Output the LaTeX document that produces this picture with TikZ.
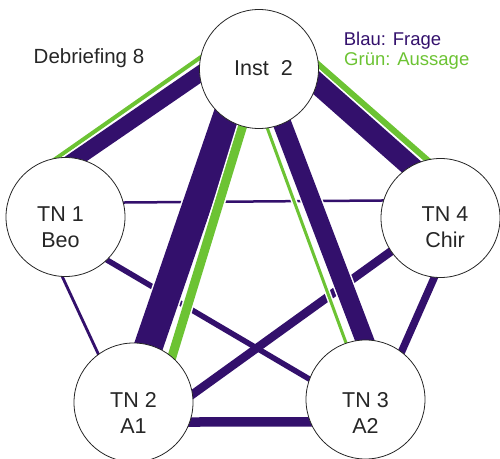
\documentclass[tikz,border=0pt]{standalone}
\usepackage{fontspec}
\setmainfont{Liberation Sans}
\usetikzlibrary{calc}
\definecolor{frage}{HTML}{33106C}
\definecolor{aussage}{HTML}{6CC333}
\definecolor{ink}{HTML}{262626}
\pgfdeclarelayer{edges}
\pgfsetlayers{edges,main}
% straight link between two border points, pushed a little into both circles
\newcommand\linkpath[2]{($(#1)!-15bp!(#2)$) -- ($(#2)!-15bp!(#1)$)}
\begin{document}
\begin{tikzpicture}[x=1bp,y=-1bp,
  person/.style={circle, draw=ink, line width=0.8bp, fill=white,
    minimum size=119bp, inner sep=0pt},
  nodetext/.style={text=ink, font=\fontsize{21.5bp}{26bp}\selectfont,
    align=center, inner sep=0pt},
  casing/.style={draw=white, line width=#1bp+3bp},
  frageline/.style={draw=frage, line width=#1bp},
  flink/.style={preaction={draw=white, line width=#1bp+3bp}, draw=frage, line width=#1bp},
  alink/.style={preaction={draw=white, line width=#1bp+3bp}, draw=aussage, line width=#1bp}]
\useasboundingbox (0,0) rectangle (500,459);

% participants
\node[person] (inst) at (259,69) {};
\node[person] (tn1) at (65.5,217) {};
\node[person] (tn4) at (440.5,218) {};
\node[person] (tn2) at (133.5,402.5) {};
\node[person] (tn3) at (365.5,399.5) {};

\node[nodetext] (inst-t) at (263.5,68.5) {Inst\ \ 2};
\node[nodetext] (tn1-t) at (60.5,227) {TN 1\\Beo};
\node[nodetext] (tn4-t) at (445,227) {TN 4\\Chir};
\node[nodetext] (tn2-t) at (133.5,413) {TN 2\\A1};
\node[nodetext] (tn3-t) at (365.5,413) {TN 3\\A2};

% title and legend
\node[anchor=base west, inner sep=0pt, text=ink,
  font=\fontsize{20.5bp}{24bp}\selectfont] (title) at (33.5,64) {Debriefing 8};
\node[anchor=base west, inner sep=0pt, text=frage,
  font=\fontsize{18.5bp}{22bp}\selectfont] (leg-frage) at (343.6,46) {Blau: Frage};
\node[anchor=base west, inner sep=0pt, text=aussage,
  font=\fontsize{18.5bp}{22bp}\selectfont] (leg-aussage) at (344,65.7) {Grün: Aussage};

\begin{pgfonlayer}{edges}
  % links among the participants: all casings first, so crossings stay solid
  \foreach \a/\b/\w in {tn1.14/tn4.163/2.5, tn1.267/tn2.126/2.8,
      tn1.314/tn3.160/5.5, tn4.214/tn2.8/8.5, tn4.264/tn3.53/7.5,
      tn2.341/tn3.202/9.5}
    \draw[casing=\w] \linkpath{\a}{\b};
  \foreach \a/\b/\w in {tn1.14/tn4.163/2.5, tn1.267/tn2.126/2.8,
      tn1.314/tn3.160/5.5, tn4.214/tn2.8/8.5, tn4.264/tn3.53/7.5,
      tn2.341/tn3.202/9.5}
    \draw[frageline=\w] \linkpath{\a}{\b};

  % links from the instructor
  \draw[alink=3]    \linkpath{inst.278}{tn3.109};
  \draw[flink=18.5] \linkpath{inst.293}{tn3.91};
  \draw[flink=29]   \linkpath{inst.237}{tn2.75};
  \draw[alink=9]    \linkpath{inst.254}{tn2.50};
  \draw[alink=4]    \linkpath{inst.169}{tn1.98};
  \draw[flink=16]   \linkpath{inst.185}{tn1.79};
  \draw[alink=6]    \linkpath{inst.4}{tn4.103};
  \draw[flink=21]   \linkpath{inst.346}{tn4.120};
\end{pgfonlayer}
\end{tikzpicture}
\end{document}
